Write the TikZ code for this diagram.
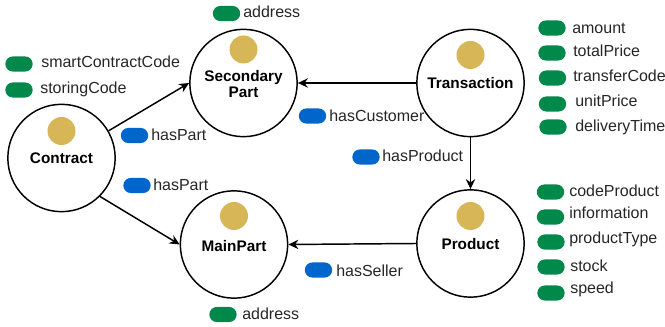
\documentclass[tikz,border=0pt]{standalone}
\usepackage{fontspec}
\setmainfont{Liberation Sans}
\usetikzlibrary{arrows.meta}
\definecolor{gold}{HTML}{D6B656}
\definecolor{attrgreen}{HTML}{00894A}
\definecolor{relblue}{HTML}{0066CC}

\begin{document}
\begin{tikzpicture}[x=0.75pt,y=-0.75pt,
  entity/.style={circle,draw,line width=1.1pt,minimum size=80.5pt,inner sep=0pt,fill=white},
  dot/.style={circle,fill=gold,minimum size=21pt,inner sep=0pt},
  ename/.style={font=\bfseries\fontsize{11.5}{11.5}\selectfont,align=center,inner sep=0pt},
  pill/.style={rectangle,rounded corners=5.6pt,minimum width=20.5pt,minimum height=11.3pt,inner sep=0pt},
  attr/.style={pill,fill=attrgreen},
  rel/.style={pill,fill=relblue},
  lbl/.style={anchor=west,inner sep=0pt,font=\fontsize{12}{14}\selectfont,text=black!85},
  link/.style={line width=1.1pt,-{Stealth[length=7.5pt,width=7pt,inset=2.5pt]}}
]
\useasboundingbox (0,0) rectangle (665,327);

% entities
\node[entity] (contract) at (61.5,158) {};
\node[dot] (contractdot) at (61.5,131) {};
\node[ename] (contractname) at (61.5,158) {Contract};

\node[entity] (secondary) at (243.5,83) {};
\node[dot] (secondarydot) at (243.5,49.5) {};
\node[ename] (secondaryname) at (243.5,84) {Secondary\\Part};

\node[entity] (transaction) at (470.5,83) {};
\node[dot] (transactiondot) at (470.5,55) {};
\node[ename] (transactionname) at (470.5,83) {Transaction};

\node[entity] (mainpart) at (234,244.5) {};
\node[dot] (mainpartdot) at (234,216) {};
\node[ename] (mainpartname) at (234,246) {MainPart};

\node[entity] (product) at (470.5,243.5) {};
\node[dot] (productdot) at (470.5,216) {};
\node[ename] (productname) at (470.5,244) {Product};

% relations
\draw[link] (contract.30) -- (secondary.west);
\draw[link] (contract.-45) -- (mainpart.west);
\draw[link] (transaction.west) -- (secondary.east);
\draw[link] (transaction.south) -- (product.north);
\draw[link] (product.west) -- (mainpart.east);

% relation labels
\node[rel] (r1) at (134.5,135.5) {};
\node[lbl] (r1t) at (151,135) {hasPart};
\node[rel] (r2) at (137,185.5) {};
\node[lbl] (r2t) at (153,185) {hasPart};
\node[rel] (r3) at (312.5,116) {};
\node[lbl] (r3t) at (329,116) {hasCustomer};
\node[rel] (r4) at (366,157) {};
\node[lbl] (r4t) at (382,156) {hasProduct};
\node[rel] (r5) at (318.5,270) {};
\node[lbl] (r5t) at (336,271) {hasSeller};

% attributes
\node[attr] (a1) at (226.5,13.5) {};
\node[lbl] (a1t) at (243,12) {address};
\node[attr] (a2) at (19,64) {};
\node[lbl] (a2t) at (41,62) {smartContractCode};
\node[attr] (a3) at (19,90) {};
\node[lbl] (a3t) at (40,89) {storingCode};
\node[attr] (a4) at (223,314.5) {};
\node[lbl] (a4t) at (242,314) {address};

\node[attr] (t1) at (552,28) {};
\node[lbl] (t1t) at (572,28) {amount};
\node[attr] (t2) at (552,53) {};
\node[lbl] (t2t) at (573,51) {totalPrice};
\node[attr] (t3) at (552.5,78) {};
\node[lbl] (t3t) at (573,76) {transferCode};
\node[attr] (t4) at (552.5,104) {};
\node[lbl] (t4t) at (575,101) {unitPrice};
\node[attr] (t5) at (553,127) {};
\node[lbl] (t5t) at (575,127) {deliveryTime};

\node[attr] (p1) at (550.5,192) {};
\node[lbl] (p1t) at (569,191) {codeProduct};
\node[attr] (p2) at (550.5,217) {};
\node[lbl] (p2t) at (569,213) {information};
\node[attr] (p3) at (551,242) {};
\node[lbl] (p3t) at (569,239) {productType};
\node[attr] (p4) at (551,267) {};
\node[lbl] (p4t) at (570,266) {stock};
\node[attr] (p5) at (551,293) {};
\node[lbl] (p5t) at (570,289) {speed};
\end{tikzpicture}
\end{document}
